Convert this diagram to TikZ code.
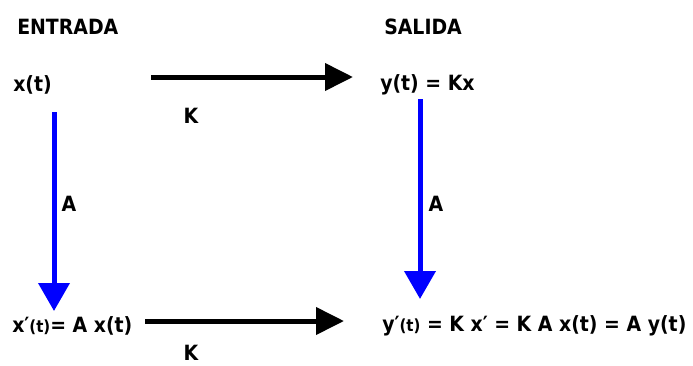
\documentclass[tikz,border=0pt]{standalone}
\usepackage{fontspec}
\setmainfont{DejaVu Sans Condensed}
\usetikzlibrary{positioning, arrows.meta}

\begin{document}
\begin{tikzpicture}[x=0.75pt, y=-0.75pt,
    every node/.style={font=\fontsize{15.75}{18}\selectfont\bfseries, inner sep=0pt},
    kmap/.style={line width=3.75pt, -{Triangle[length=21pt, width=20pt]}},
    amap/.style={blue, line width=3.75pt, -{Triangle[length=21pt, width=23pt]}}]
      \useasboundingbox (0,0) rectangle (693,365);

      % Titles
      \node[anchor=west] (entrada) at (17, 27) {ENTRADA};
      \node[anchor=west] (salida) at (384, 27) {SALIDA};

      % Signals
      \node[anchor=west] (xt) at (13, 85) {x(t)};
      \node[anchor=west] (yt) at (380, 85) {y(t) = Kx};
      \node[anchor=west] (dxt) at (12, 326) {x′{\fontsize{12.5}{14}\selectfont(t)}= A x(t)};
      \node[anchor=west] (dyt) at (382, 326) {y′{\fontsize{12.5}{14}\selectfont(t)} = K x′ = K A x(t) = A y(t)};

      % Arrow ends
      \coordinate (ktops) at (151, 77);
      \coordinate (ktope) at (353, 77);
      \coordinate (kbots) at (145, 321);
      \coordinate (kbote) at (344, 321);
      \coordinate (alefts) at (54, 112);
      \coordinate (alefte) at (54, 311);
      \coordinate (arights) at (420, 99);
      \coordinate (arighte) at (420, 299);

      % Maps
      \draw[kmap] (ktops) -- (ktope);
      \draw[kmap] (kbots) -- (kbote);
      \draw[amap] (alefts) -- (alefte);
      \draw[amap] (arights) -- (arighte);

      % Map labels
      \node (ktop) at (191, 116) {K};
      \node (kbot) at (191, 353) {K};
      \node (aleft) at (69, 204) {A};
      \node (aright) at (436, 204) {A};
    \end{tikzpicture}
\end{document}
